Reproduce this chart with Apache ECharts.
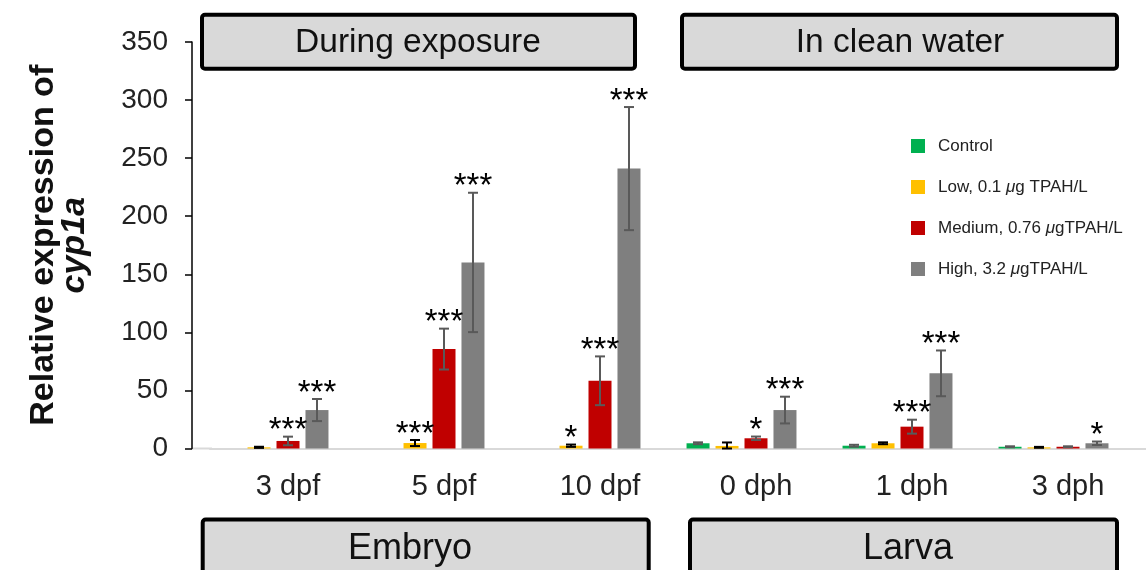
<!DOCTYPE html>
<html>
<head>
<meta charset="utf-8">
<script src="https://cdn.jsdelivr.net/npm/echarts@6/dist/echarts.min.js"></script>
<style>
  html, body { margin: 0; padding: 0; background: #fff; }
  #chart { width: 1146px; height: 570px; }
</style>
</head>
<body>
<div id="chart"></div>
<script>
// categories and series
var stages = ['3 dpf', '5 dpf', '10 dpf', '0 dph', '1 dph', '3 dph'];
var groupNames = ['Control', 'Low, 0.1 μg TPAH/L', 'Medium, 0.76 μgTPAH/L', 'High, 3.2 μgTPAH/L'];
var groupColors = ['#00b050', '#ffc000', '#c00000', '#7f7f7f'];

var control = ['-', '-', '-', 4.5, 2.4, 1.5];
var low = [1.0, 4.7, 2.4, 2.2, 4.5, 1.0];
var medium = [6.5, 85.6, 58.3, 8.8, 18.8, 1.5];
var high = [33.1, 160.2, 241, 33.1, 64.7, 4.5];

var controlErr = [0, 0, 0, 0.8, 0.8, 0.4];
var lowErr = [0.5, 2.6, 1.0, 3.0, 0.8, 0.4];
var mediumErr = [3.7, 17.6, 21, 1.5, 6.0, 0.4];
var highErr = [9.5, 60, 53, 11.5, 19.7, 1.5];

var controlSig = ['', '', '', '', '', ''];
var lowSig = ['', '***', '*', '', '', ''];
var mediumSig = ['***', '***', '***', '*', '***', ''];
var highSig = ['***', '***', '***', '***', '***', '*'];

var yTicks = [0, 50, 100, 150, 200, 250, 300, 350];

var values = [control, low, medium, high];
var errs = [controlErr, lowErr, mediumErr, highErr];
var sigs = [controlSig, lowSig, mediumSig, highSig];

var FONT = '"Liberation Sans", Arial, Helvetica, sans-serif';
var BAR_W = 23;
var PITCH = 29;

// flatten error bar items for one custom series
var errItems = [];
for (var s = 0; s < 4; s++) {
  for (var c = 0; c < stages.length; c++) {
    if (values[s][c] === '-') continue;
    errItems.push({ value: [c, s, values[s][c], errs[s][c]], stars: sigs[s][c] });
  }
}

function renderErr(params, api) {
  var cat = api.value(0), s = api.value(1), v = api.value(2), e = api.value(3);
  var item = errItems[params.dataIndex];
  var x = api.coord([cat, v])[0] + (s - 2) * PITCH;
  var top = api.coord([cat, v + e])[1];
  var bot = api.coord([cat, Math.max(v - e, 0)])[1];
  var col = s === 1 ? '#000' : '#595959';
  var style = { stroke: col, lineWidth: 2 };
  var kids = [
    { type: 'line', shape: { x1: x, y1: top, x2: x, y2: bot }, style: style },
    { type: 'line', shape: { x1: x - 5, y1: top, x2: x + 5, y2: top }, style: style },
    { type: 'line', shape: { x1: x - 5, y1: bot, x2: x + 5, y2: bot }, style: style }
  ];
  if (item.stars) {
    kids.push({
      type: 'text',
      style: {
        x: x, y: top + 11, text: item.stars,
        fill: '#000', font: '33px ' + FONT,
        align: 'center', verticalAlign: 'bottom'
      }
    });
  }
  return { type: 'group', children: kids };
}

var barSeries = values.map(function (d, i) {
  return {
    name: groupNames[i],
    type: 'bar',
    data: d,
    barWidth: BAR_W,
    barGap: '26%',
    itemStyle: { color: groupColors[i] },
    silent: true
  };
});
// empty fifth slot, the original chart leaves room for one more bar per stage
barSeries.push({ name: 'spacer', type: 'bar', data: stages.map(function () { return '-'; }), barWidth: BAR_W, barGap: '26%' });

function panel(x, y, w, h, label, cx, cy, fs) {
  return {
    type: 'group',
    children: [
      { type: 'rect', shape: { x: x, y: y, width: w, height: h, r: 3 },
        style: { fill: '#d9d9d9', stroke: '#000', lineWidth: 4 } },
      { type: 'text', x: cx, y: cy,
        style: { text: label, font: fs + 'px ' + FONT, fill: '#111', align: 'center', verticalAlign: 'middle' } }
    ]
  };
}

var myChart = echarts.init(document.getElementById('chart'));

var option = {
  animation: false,
  textStyle: { fontFamily: FONT },
  grid: { left: 210, top: 42, width: 957, height: 406.5, containLabel: false },
  legend: {
    data: groupNames,
    orient: 'vertical',
    left: 911,
    top: 136,
    padding: 0,
    icon: 'rect',
    itemWidth: 14,
    itemHeight: 14,
    itemGap: 21,
    formatter: function (n) {
      return n.replace('μ', '{i|μ}');
    },
    textStyle: {
      fontSize: 17, color: '#222', lineHeight: 20, padding: [0, 0, 0, 8],
      rich: { i: { fontSize: 17, fontStyle: 'italic', color: '#222' } }
    }
  },
  xAxis: {
    type: 'category',
    data: stages,
    axisLine: { lineStyle: { color: '#d9d9d9', width: 2 } },
    axisTick: { show: false },
    axisLabel: { fontSize: 29, color: '#222', margin: 24 }
  },
  yAxis: {
    type: 'value',
    min: yTicks[0],
    max: yTicks[yTicks.length - 1],
    interval: 50,
    offset: 18,
    splitLine: { show: false },
    axisLine: { show: true, lineStyle: { color: '#000', width: 1.5 } },
    axisTick: { show: true, length: 7, lineStyle: { color: '#000', width: 1.5 } },
    axisLabel: { fontSize: 28, color: '#222', margin: 24 },
    name: '{a|Relative expression of}\n{b|cyp1a}',
    nameLocation: 'middle',
    nameRotate: 90,
    nameGap: 102,
    nameTextStyle: {
      rich: {
        a: { fontSize: 34, fontWeight: 'bold', color: '#111', lineHeight: 31, align: 'center' },
        b: { fontSize: 34, fontWeight: 'bold', fontStyle: 'italic', color: '#111', lineHeight: 31, align: 'center' }
      }
    }
  },
  graphic: [
    { type: 'line', shape: { x1: 192, y1: 448.5, x2: 212, y2: 448.5 }, style: { stroke: '#d9d9d9', lineWidth: 2 } },
    panel(202, 14.7, 433, 54, 'During exposure', 418, 43, 33.5),
    panel(682, 14.7, 435, 54, 'In clean water', 900, 43, 33.5),
    panel(202.7, 519.5, 446, 70, 'Embryo', 410, 549, 36),
    panel(690, 519.5, 427, 70, 'Larva', 908, 549, 36)
  ],
  series: barSeries.concat([{
    type: 'custom',
    name: 'errors',
    renderItem: renderErr,
    data: errItems,
    encode: { x: 0, y: 2 },
    z: 5,
    silent: true
  }])
};

myChart.setOption(option);
</script>
</body>
</html>
